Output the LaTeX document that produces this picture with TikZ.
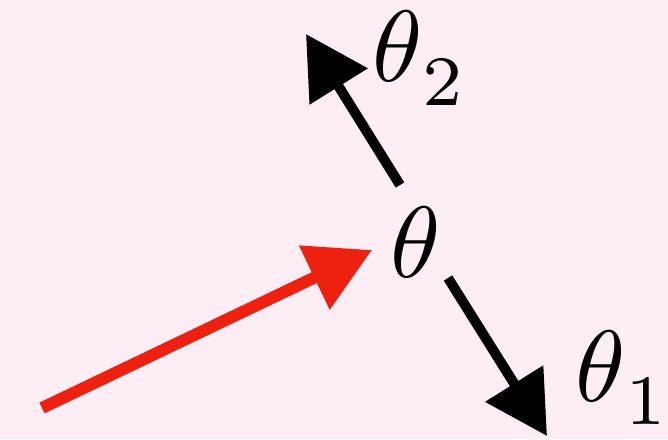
\documentclass[tikz,border=0pt]{standalone}
\usetikzlibrary{arrows.meta}
\definecolor{bgpink}{HTML}{FCEEF4}
\definecolor{redc}{HTML}{EE2010}
\definecolor{inkc}{HTML}{000000}
\newcommand{\bigth}{\scalebox{7.2}{$\theta$}}
\newcommand{\thsub}[1]{\bigth\raisebox{-17pt}{\scalebox{7.2}{$\scriptstyle #1$}}}

\begin{document}
\begin{tikzpicture}[x=0.025cm, y=-0.025cm,
  lab/.style={inner sep=0pt, anchor=base west},
  blackarr/.style={inkc, line width=7.1pt, -{Triangle[length=44pt, width=47pt]}},
  redarr/.style={redc, line width=8.5pt, -{Triangle[length=45.5pt, width=48.4pt]}}]
  \fill[bgpink] (0,0) rectangle (668,439);
  \useasboundingbox (0,0) rectangle (668,439);
  % labels
  \node[lab] (theta) at (390,277) {\bigth};
  \node[lab] (thetatwo) at (372,82) {\thsub{2}};
  \node[lab] (thetaone) at (575,401) {\thsub{1}};
  % arrow ends
  \coordinate (start) at (42,408);
  \coordinate (redtip) at (372,250);
  \coordinate (uptail) at (400,185);
  \coordinate (uptip) at (306,34);
  \coordinate (dntail) at (448,278);
  \coordinate (dntip) at (547,436);
  \draw[redarr] (start) -- (redtip);
  \draw[blackarr] (uptail) -- (uptip);
  \draw[blackarr] (dntail) -- (dntip);
\end{tikzpicture}
\end{document}
